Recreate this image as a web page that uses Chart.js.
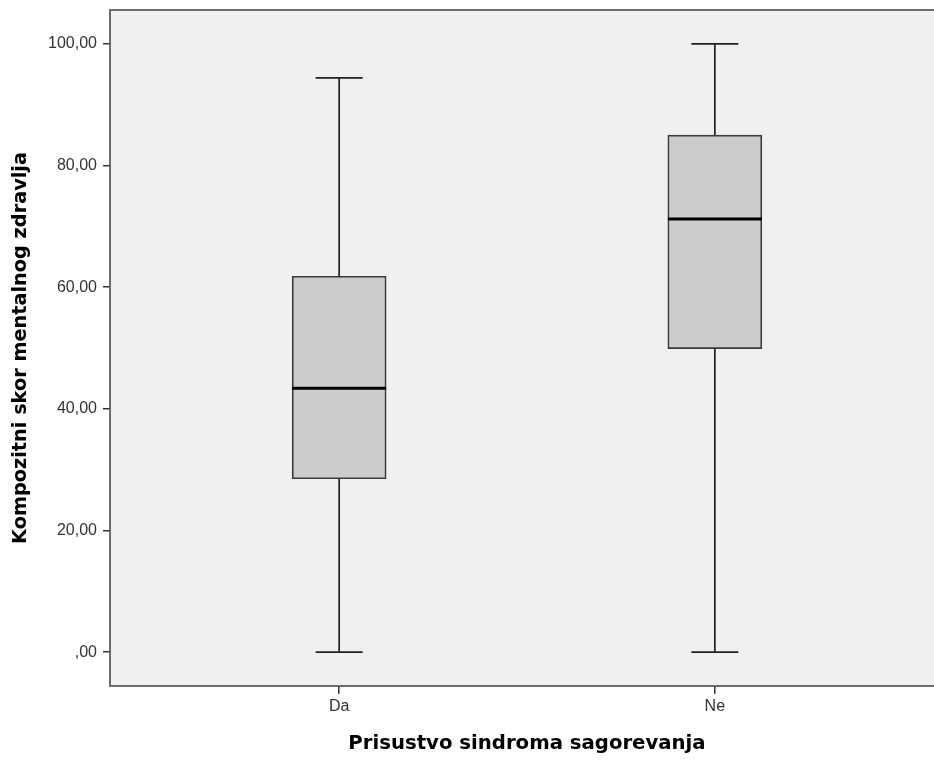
<!DOCTYPE html>
<html>
<head>
<meta charset="utf-8">
<script src="https://cdn.jsdelivr.net/npm/chart.js@4.4.1/dist/chart.umd.min.js"></script>
<style>
html, body { margin:0; padding:0; background:#ffffff; overflow:hidden; width:934px; height:760px; }
#wrap { position:absolute; left:0; top:0; width:946px; height:760px; }
</style>
</head>
<body>
<div id="wrap"><canvas id="c"></canvas></div>
<script>
// ---- data ----
const categories = ['Da', 'Ne'];
const whiskerMin = [0, 0];
const q1Values   = [28.5, 49.9];
const medians    = [43.4, 71.2];
const q3Values   = [61.8, 85.0];
const whiskerMax = [94.4, 100];
const yTickValues = [0, 20, 40, 60, 80, 100];
const xTitle = 'Prisustvo sindroma sagorevanja';
const yTitle = 'Kompozitni skor mentalnog zdravlja';

const boxData = categories.map((c, i) => ({ x: i, y: [q1Values[i], q3Values[i]] }));

function fmt(v) {
  let s = v.toFixed(2).replace('.', ',');
  if (s.startsWith('0,')) s = s.substring(1);
  return s;
}

const framePlugin = {
  id: 'frame',
  beforeDraw(chart) {
    const { ctx, chartArea: a } = chart;
    ctx.save();
    ctx.fillStyle = '#f0f0f0';
    ctx.fillRect(a.left, a.top, a.right - a.left, a.bottom - a.top);
    ctx.restore();
  },
  afterDraw(chart) {
    const { ctx, chartArea: a } = chart;
    ctx.save();
    ctx.strokeStyle = '#555555';
    ctx.lineWidth = 1.7;
    ctx.strokeRect(a.left, a.top, a.right - a.left, a.bottom - a.top);
    ctx.restore();
  }
};

const boxPlugin = {
  id: 'boxparts',
  afterDatasetsDraw(chart) {
    const { ctx, scales: { x, y } } = chart;
    const meta = chart.getDatasetMeta(0);
    ctx.save();
    categories.forEach((c, i) => {
      const el = meta.data[i];
      const half = el.width / 2;
      const cx = x.getPixelForValue(i);
      const pMin = y.getPixelForValue(whiskerMin[i]);
      const pQ1 = y.getPixelForValue(q1Values[i]);
      const pMed = y.getPixelForValue(medians[i]);
      const pQ3 = y.getPixelForValue(q3Values[i]);
      const pMax = y.getPixelForValue(whiskerMax[i]);
      ctx.strokeStyle = '#222222';
      ctx.lineWidth = 1.7;
      ctx.beginPath();
      ctx.moveTo(cx, pQ3); ctx.lineTo(cx, pMax);
      ctx.moveTo(cx, pQ1); ctx.lineTo(cx, pMin);
      ctx.moveTo(cx - half / 2, pMax); ctx.lineTo(cx + half / 2, pMax);
      ctx.moveTo(cx - half / 2, pMin); ctx.lineTo(cx + half / 2, pMin);
      ctx.stroke();
      ctx.strokeStyle = '#000000';
      ctx.lineWidth = 3;
      ctx.beginPath();
      ctx.moveTo(cx - half, pMed); ctx.lineTo(cx + half, pMed);
      ctx.stroke();
    });
    ctx.restore();
  }
};

function zeroPad(scale) {
  scale.paddingTop = 0; scale.paddingBottom = 0;
  scale.paddingLeft = 0; scale.paddingRight = 0;
}

new Chart(document.getElementById('c'), {
  type: 'bar',
  data: {
    datasets: [{
      data: boxData,
      backgroundColor: '#cccccc',
      borderColor: '#3a3a3a',
      borderWidth: 1.7,
      borderSkipped: false,
      barThickness: 94
    }]
  },
  plugins: [framePlugin, boxPlugin],
  options: {
    responsive: true,
    maintainAspectRatio: false,
    animation: false,
    layout: { padding: { top: 10, right: 2, bottom: 0, left: 0 } },
    plugins: { legend: { display: false }, tooltip: { enabled: false } },
    scales: {
      x: {
        type: 'linear',
        min: -0.61,
        max: 1.61,
        offset: false,
        afterBuildTicks(scale) { scale.ticks = categories.map((c, i) => ({ value: i })); },
        afterFit(scale) { scale.height = 74; zeroPad(scale); },
        ticks: {
          callback: (v) => categories[v],
          color: '#333333',
          font: { family: '"Liberation Sans", Arial, sans-serif', size: 16 },
          padding: 3,
          maxRotation: 0,
          autoSkip: false
        },
        grid: { offset: false, drawOnChartArea: false, drawTicks: true, tickLength: 8, color: '#333333', lineWidth: 1.5 },
        border: { display: false },
        title: {
          display: true,
          text: xTitle,
          color: '#000000',
          font: { family: '"DejaVu Sans", sans-serif', size: 19.7, weight: 'bold' },
          padding: { top: 0, bottom: 4 }
        }
      },
      y: {
        type: 'linear',
        min: -5.57,
        max: 105.57,
        afterBuildTicks(scale) { scale.ticks = yTickValues.map(v => ({ value: v })); },
        afterFit(scale) { scale.width = 110; zeroPad(scale); },
        ticks: {
          callback: (v) => fmt(v),
          color: '#333333',
          font: { family: '"Liberation Sans", Arial, sans-serif', size: 16 },
          padding: 6,
          autoSkip: false
        },
        grid: { drawOnChartArea: false, drawTicks: true, tickLength: 7, color: '#333333', lineWidth: 1.5 },
        border: { display: false },
        title: {
          display: true,
          text: yTitle,
          color: '#000000',
          font: { family: '"DejaVu Sans", sans-serif', size: 19.3, weight: 'bold' },
          padding: { top: 9, bottom: 0 }
        }
      }
    }
  }
});
</script>
</body>
</html>
